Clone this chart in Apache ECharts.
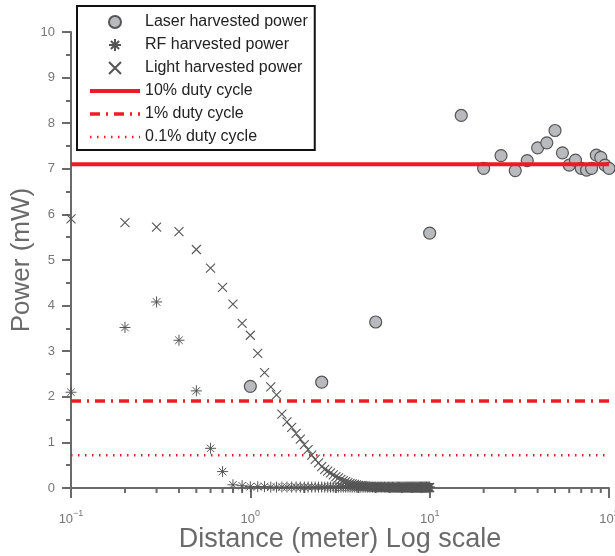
<!DOCTYPE html>
<html>
<head>
<meta charset="utf-8">
<script src="https://cdn.jsdelivr.net/npm/echarts@6/dist/echarts.min.js"></script>
<style>
  html, body { margin: 0; padding: 0; background: #fff; }
  #chart { width: 615px; height: 556px; }
</style>
</head>
<body>
<div id="chart"></div>
<script>
// Laser harvested power (mW) at each distance (m)
const laserDistance = [1, 2.5, 5, 10, 15, 20, 25, 30, 35, 40, 45, 50, 55, 60, 65, 70, 75, 80, 85, 90, 95, 100];
const laserPower = [2.23, 2.32, 3.64, 5.59, 8.17, 7.01, 7.29, 6.96, 7.18, 7.46, 7.57, 7.84, 7.35, 7.08, 7.19, 7.01, 6.97, 7.01, 7.30, 7.25, 7.08, 7.01];

// RF and light measurements share the same distance grid (m)
const sweepDistance = [
  0.1, 0.2, 0.3, 0.4, 0.5, 0.6, 0.7, 0.8, 0.9,
  1.0, 1.1, 1.2, 1.3, 1.4, 1.5, 1.6, 1.7, 1.8, 1.9,
  2.0, 2.1, 2.2, 2.3, 2.4, 2.5, 2.6, 2.7, 2.8, 2.9,
  3.0, 3.1, 3.2, 3.3, 3.4, 3.5, 3.6, 3.7, 3.8, 3.9,
  4.0, 4.1, 4.2, 4.3, 4.4, 4.5, 4.6, 4.7, 4.8, 4.9,
  5.0, 5.1, 5.2, 5.3, 5.4, 5.5, 5.6, 5.7, 5.8, 5.9,
  6.0, 6.1, 6.2, 6.3, 6.4, 6.5, 6.6, 6.7, 6.8, 6.9,
  7.0, 7.1, 7.2, 7.3, 7.4, 7.5, 7.6, 7.7, 7.8, 7.9,
  8.0, 8.1, 8.2, 8.3, 8.4, 8.5, 8.6, 8.7, 8.8, 8.9,
  9.0, 9.1, 9.2, 9.3, 9.4, 9.5, 9.6, 9.7, 9.8, 9.9,
  10.0
];

const rfPower = [
  2.10, 3.52, 4.08, 3.24, 2.13, 0.87, 0.36, 0.07, 0.05,
  0.03, 0.03, 0.03, 0.02, 0.02, 0.02, 0.02, 0.02, 0.02, 0.02,
  0.02, 0.02, 0.02, 0.02, 0.02, 0.02, 0.02, 0.02, 0.02, 0.02,
  0.02, 0.02, 0.02, 0.02, 0.02, 0.02, 0.02, 0.02, 0.02, 0.02,
  0.02, 0.02, 0.02, 0.02, 0.02, 0.02, 0.02, 0.02, 0.02, 0.02,
  0.02, 0.02, 0.02, 0.02, 0.02, 0.02, 0.02, 0.02, 0.02, 0.02,
  0.02, 0.02, 0.02, 0.02, 0.02, 0.02, 0.02, 0.02, 0.02, 0.02,
  0.02, 0.02, 0.02, 0.02, 0.02, 0.02, 0.02, 0.02, 0.02, 0.02,
  0.02, 0.02, 0.02, 0.02, 0.02, 0.02, 0.02, 0.02, 0.02, 0.02,
  0.02, 0.02, 0.02, 0.02, 0.02, 0.02, 0.02, 0.02, 0.02, 0.02,
  0.02
];

const lightPower = [
  5.90, 5.82, 5.72, 5.62, 5.23, 4.82, 4.40, 4.03, 3.61,
  3.35, 2.95, 2.53, 2.22, 2.04, 1.62, 1.45, 1.33, 1.20, 1.07,
  0.95, 0.84, 0.72, 0.63, 0.55, 0.47, 0.41, 0.37, 0.33, 0.29,
  0.25, 0.22, 0.19, 0.16, 0.14, 0.12, 0.10, 0.09, 0.08, 0.07,
  0.06, 0.05, 0.05, 0.04, 0.04, 0.03, 0.03, 0.03, 0.02, 0.02,
  0.02, 0.02, 0.02, 0.02, 0.02, 0.02, 0.02, 0.02, 0.02, 0.02,
  0.01, 0.01, 0.01, 0.01, 0.01, 0.01, 0.01, 0.01, 0.01, 0.01,
  0.01, 0.01, 0.01, 0.01, 0.01, 0.01, 0.01, 0.01, 0.01, 0.01,
  0.01, 0.01, 0.01, 0.01, 0.01, 0.01, 0.01, 0.01, 0.01, 0.01,
  0.01, 0.01, 0.01, 0.01, 0.01, 0.01, 0.01, 0.01, 0.01, 0.01,
  0.01
];

// Average power budgets for the three duty cycles (mW), spanning the full distance range
const dutyCycleNames = ['10% duty cycle', '1% duty cycle', '0.1% duty cycle'];
const dutyCyclePower = [7.1, 1.91, 0.72];
const dutyCycleSpan = [0.1, 100];

// Axis tick values
const yTicks = { min: 0, max: 10, step: 1 };
const xRange = [0.1, 100];
const xMinorTickValues = [0.2, 0.3, 0.4, 0.5, 0.6, 0.7, 0.8, 0.9, 2, 3, 4, 5, 6, 7, 8, 9, 20, 30, 40, 50, 60, 70, 80, 90];

const FONT = '"Liberation Sans", Arial, sans-serif';
const AXIS_GRAY = '#6a6a6a';
const LABEL_GRAY = '#767676';
const RED = '#ed1c24';
const MARK_GRAY = '#555555';

const CROSS = 'path://M0,0L10,10M10,0L0,10';
const ASTERISK = 'path://M5,0L5,10M0,5L10,5M1.6,1.6L8.4,8.4M8.4,1.6L1.6,8.4';

function zip(xs, ys) { return xs.map((x, i) => [x, ys[i]]); }

const chart = echarts.init(document.getElementById('chart'), null, { renderer: 'canvas' });

const dutyStyles = [
  { width: 4, type: 'solid' },
  { width: 3.5, type: [10, 6, 2, 6] },
  { width: 2.5, type: [1.5, 5.5] }
];

const dutySeries = dutyCycleNames.map((name, i) => ({
  name: name,
  type: 'line',
  symbol: 'none',
  silent: true,
  data: dutyCycleSpan.map(d => [d, dutyCyclePower[i]]),
  lineStyle: Object.assign({ color: RED, cap: 'butt' }, dutyStyles[i]),
  itemStyle: { color: RED },
  z: 4
}));

const option = {
  animation: false,
  backgroundColor: '#ffffff',
  grid: { left: 71, right: 6, top: 32, bottom: 68, outerBoundsMode: 'none', containLabel: false },
  legend: {
    orient: 'vertical',
    left: 77,
    top: 6,
    itemWidth: 50,
    itemHeight: 12,
    itemGap: 7,
    padding: [8, 7, 5, 11],
    borderColor: '#111',
    borderWidth: 2,
    backgroundColor: '#ffffff',
    textStyle: { fontFamily: FONT, fontSize: 16, color: '#222' },
    data: [
      'Laser harvested power',
      'RF harvested power',
      'Light harvested power'
    ].concat(dutyCycleNames.map((n, i) => ({
      name: n,
      itemStyle: { opacity: 0 },
      lineStyle: { color: RED, width: dutyStyles[i].width, type: dutyStyles[i].type, cap: 'butt' }
    }))),
    z: 10
  },
  xAxis: {
    type: 'log',
    logBase: 10,
    min: xRange[0],
    max: xRange[1],
    axisLine: { show: true, lineStyle: { color: AXIS_GRAY, width: 2 } },
    axisTick: { show: true, length: 10, lineStyle: { color: AXIS_GRAY, width: 2 } },
    splitLine: { show: false },
    axisLabel: {
      margin: 21,
      formatter: v => {
        const e = Math.round(Math.log10(v));
        return '{b|10}{s|' + (e < 0 ? '\u2212' + (-e) : e) + '}';
      },
      rich: {
        b: { fontFamily: FONT, fontSize: 13, color: LABEL_GRAY, lineHeight: 20 },
        s: { fontFamily: FONT, fontSize: 9, color: LABEL_GRAY, lineHeight: 10, verticalAlign: 'top' }
      }
    },
    name: 'Distance (meter) Log scale',
    nameLocation: 'middle',
    nameGap: 38,
    nameMoveOverlap: false,
    nameTextStyle: { fontFamily: FONT, fontSize: 27, color: AXIS_GRAY }
  },
  yAxis: {
    type: 'value',
    min: yTicks.min,
    max: yTicks.max,
    interval: yTicks.step,
    axisLine: { show: true, lineStyle: { color: AXIS_GRAY, width: 2 } },
    axisTick: { show: true, length: 9, lineStyle: { color: AXIS_GRAY, width: 2 } },
    minorTick: { show: true, splitNumber: 2, length: 5, lineStyle: { color: AXIS_GRAY, width: 2 } },
    splitLine: { show: false },
    axisLabel: { margin: 16, fontFamily: FONT, fontSize: 13, color: LABEL_GRAY },
    name: 'Power (mW)',
    nameLocation: 'middle',
    nameGap: 36,
    nameMoveOverlap: false,
    nameTextStyle: { fontFamily: FONT, fontSize: 26, color: AXIS_GRAY }
  },
  series: [
    {
      name: 'Laser harvested power',
      type: 'scatter',
      symbol: 'circle',
      symbolSize: 12,
      data: zip(laserDistance, laserPower),
      itemStyle: { color: '#b9babe', borderColor: MARK_GRAY, borderWidth: 1.2, opacity: 1 },
      z: 3
    },
    {
      name: 'RF harvested power',
      type: 'scatter',
      symbol: ASTERISK,
      symbolSize: 11,
      data: zip(sweepDistance, rfPower),
      itemStyle: { color: 'rgba(0,0,0,0)', borderColor: MARK_GRAY, borderWidth: 1, opacity: 1 },
      z: 3
    },
    {
      name: 'Light harvested power',
      type: 'scatter',
      symbol: CROSS,
      symbolSize: 9,
      data: zip(sweepDistance, lightPower),
      itemStyle: { color: 'rgba(0,0,0,0)', borderColor: MARK_GRAY, borderWidth: 1.1, opacity: 1 },
      z: 3
    }
  ].concat(dutySeries).concat([
    {
      // minor ticks of the log distance axis (2..9 within each decade)
      name: 'xMinorTicks',
      type: 'custom',
      silent: true,
      clip: false,
      data: xMinorTickValues.map(v => [v, 0]),
      renderItem: (params, api) => {
        const p = api.coord([api.value(0), 0]);
        return {
          type: 'line',
          shape: { x1: p[0], y1: p[1], x2: p[0], y2: p[1] + 5 },
          style: { stroke: AXIS_GRAY, lineWidth: 2 }
        };
      },
      z: 2
    }
  ])
};

chart.setOption(option);
</script>
</body>
</html>
